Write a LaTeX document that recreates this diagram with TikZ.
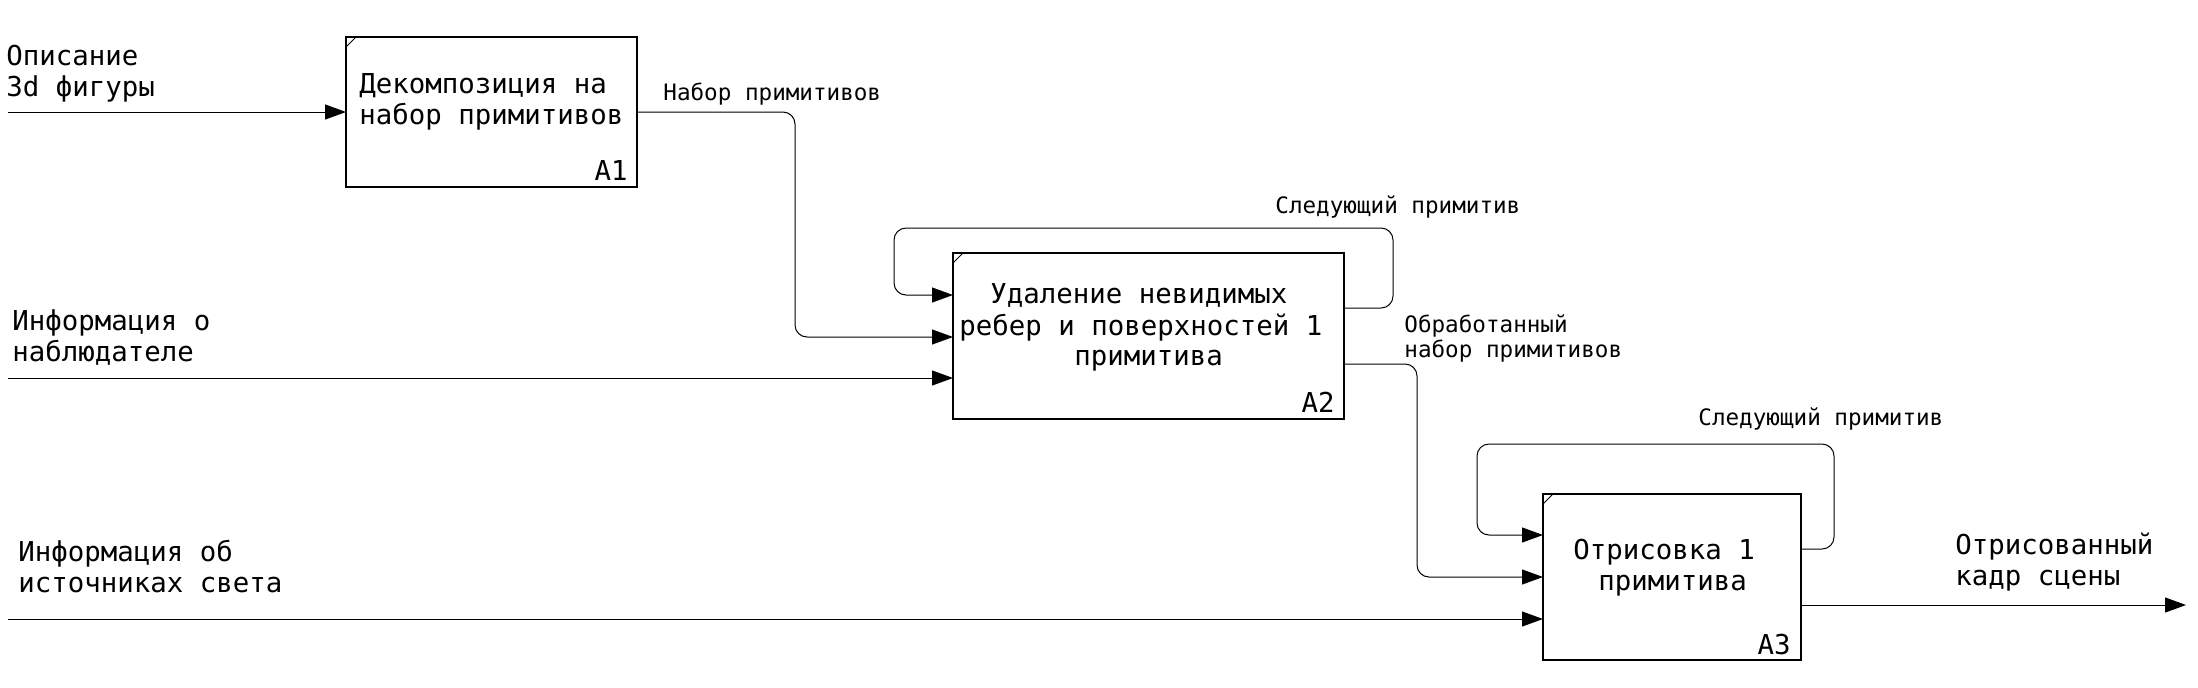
\documentclass[tikz,border=0pt]{standalone}
\usepackage{fontspec}
\setmainfont{DejaVu Sans Mono}
\usetikzlibrary{arrows.meta}
\newcommand\mlines[1]{\begin{tabular}[t]{@{}l@{}}#1\end{tabular}}
\begin{document}
\begin{tikzpicture}[x=0.5pt,y=-0.5pt,
  box/.style={draw, line width=0.6pt, rectangle, anchor=north west, inner sep=0pt, outer sep=0pt},
  conn/.style={draw, line width=0.5pt, -{Triangle[length=10.5pt,width=7.5pt]}},
  plain/.style={draw, line width=0.5pt},
  big/.style={font=\fontsize{13.7pt}{15.5pt}\selectfont, inner sep=0pt, anchor=base west},
  small/.style={font=\fontsize{11.3pt}{12.5pt}\selectfont, inner sep=0pt, anchor=base west},
  rcorner/.style={rounded corners=6pt}]
\fill[white] (0,0) rectangle (2198,687);
\useasboundingbox (0,0) rectangle (2198,687);

% boxes
\node[box, minimum width=145.5pt, minimum height=75pt] (A1) at (346,37) {};
\node[box, minimum width=195.5pt, minimum height=83pt] (A2) at (953,253) {};
\node[box, minimum width=129pt, minimum height=83pt] (A3) at (1543,494) {};
\foreach \b in {A1,A2,A3}
  \draw[plain] ([yshift=-5pt]\b.north west) -- ([xshift=5pt]\b.north west);

% box texts
\node[big] (A1t) at (359,93) {\mlines{Декомпозиция на\\набор примитивов}};
\node[big, anchor=base east] (A1id) at (628,180) {A1};
\node[big] (A2t1) at (990,303) {Удаление невидимых};
\node[big] (A2t2) at (959,335) {ребер и поверхностей 1};
\node[big] (A2t3) at (1074,365) {примитива};
\node[big, anchor=base east] (A2id) at (1335,412) {A2};
\node[big] (A3t1) at (1573,559) {Отрисовка 1};
\node[big] (A3t2) at (1598,590) {примитива};
\node[big, anchor=base east] (A3id) at (1791,654) {A3};

% free ends
\coordinate (in1) at (8,112);
\coordinate (in2) at (8,378);
\coordinate (in3) at (8,619);
\coordinate (out1) at (2186,605);

% inputs
\draw[conn] (in1) -- (A1.west |- in1);
\draw[conn] (in2) -- (A2.west |- in2);
\draw[conn] (in3) -- (A3.west |- in3);
\draw[conn] (A3.east |- out1) -- (out1);

% A1 -> A2
\draw[conn, rcorner] (A1.east |- 0,112) -| (795,337) -- (A2.west |- 0,337);
% A2 loop
\draw[conn, rcorner] (A2.east |- 0,308) -| (1393,228) -| (894,295) -- (A2.west |- 0,295);
% A2 -> A3
\draw[conn, rcorner] (A2.east |- 0,364) -| (1417,577) -- (A3.west |- 0,577);
% A3 loop
\draw[conn, rcorner] (A3.east |- 0,549) -| (1834,444) -| (1477,535) -- (A3.west |- 0,535);

% labels
\node[big] (l1) at (6,65) {\mlines{Описание\\3d фигуры}};
\node[big] (l2) at (12,330) {\mlines{Информация о\\наблюдателе}};
\node[big] (l3) at (18,561) {\mlines{Информация об\\источниках света}};
\node[small] (l4) at (663,100) {Набор примитивов};
\node[small] (l5) at (1275,213) {Следующий примитив};
\node[small] (l6) at (1404,332) {\mlines{Обработанный\\набор примитивов}};
\node[small] (l7) at (1698,425) {Следующий примитив};
\node[big] (l8) at (1955,554) {\mlines{Отрисованный\\кадр сцены}};
\end{tikzpicture}
\end{document}
